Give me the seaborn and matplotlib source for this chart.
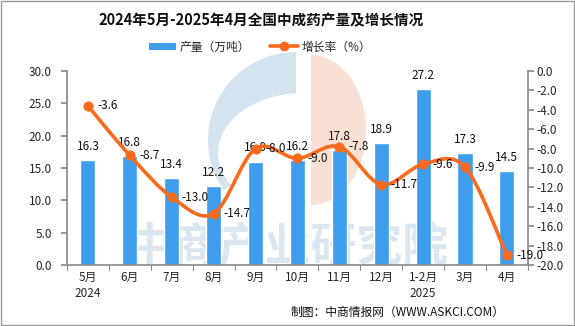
import numpy as np
import pandas as pd
import matplotlib
matplotlib.use("Agg")
import matplotlib.pyplot as plt
import seaborn as sns
from matplotlib.path import Path
from matplotlib.patches import PathPatch, Rectangle, Ellipse, Wedge, Patch, Polygon
from matplotlib.lines import Line2D

sns.set_theme(style="white")
plt.rcParams['font.family'] = ['Noto Sans CJK SC', 'DejaVu Sans']

months = ["5月\n2024", "6月", "7月", "8月", "9月", "10月", "11月", "12月", "1-2月\n2025", "3月", "4月"]
output = [16.3, 16.8, 13.4, 12.2, 16.0, 16.2, 17.8, 18.9, 27.2, 17.3, 14.5]
growth = [-3.6, -8.7, -13.0, -14.7, -8.0, -9.0, -7.8, -11.7, -9.6, -9.9, -19.0]

df = pd.DataFrame({"month": months, "output": output, "growth": growth})
df["x"] = np.arange(len(df))

BLUE = "#3e9ded"
ORANGE = "#fa6a1c"
WM_BLUE = "#d4e4ee"
WM_PEACH = "#f9e0d4"

fig = plt.figure(figsize=(5.75, 3.26), dpi=100)
fig.patch.set_facecolor("white")
fig.add_artist(Rectangle((0.001, 0.002), 0.997, 0.995, transform=fig.transFigure,
                         fill=False, edgecolor="#9a9a9a", linewidth=1.0))

# watermark logo (background), pixel coordinates with y measured upward
H = 326
wax = fig.add_axes([0, 0, 1, 1], zorder=0)
wax.set_xlim(0, 575); wax.set_ylim(0, H); wax.axis("off")
wax.add_patch(Wedge((296, H - 140), 88, 90, 215, facecolor=WM_BLUE, edgecolor="none"))
wax.add_patch(Ellipse((303, H - 153), 170, 120, facecolor="white", edgecolor="none"))
t = np.linspace(-np.pi / 2, np.pi / 2, 60)
wax.add_patch(Polygon(np.column_stack([311 + 55 * np.cos(t), (H - 130) + 75 * np.sin(t)]),
                      closed=True, facecolor=WM_PEACH, edgecolor="none"))
wax.text(288, H - 248, "中商产业研究院", fontsize=33, color="#dae7f0", ha="center", va="center",
         fontweight="bold")

ax = fig.add_axes([0.1165, 0.187, 0.8015, 0.595], zorder=1)
ax.patch.set_alpha(0)
sns.barplot(data=df, x="x", y="output", color=BLUE, width=0.36, ax=ax,
            saturation=1, zorder=2)
if ax.get_legend() is not None:
    ax.get_legend().remove()
ax.set_ylim(0, 30)
ax.set_xlim(-0.5, len(df) - 0.5)
ax.set_yticks(np.arange(0, 30.1, 5))
ax.set_yticklabels([f"{v:.1f}" for v in np.arange(0, 30.1, 5)], fontsize=8.5)
ax.set_xticks(df["x"])
ax.set_xticklabels(months, fontsize=8.5, linespacing=1.3)
ax.set_xlabel(""); ax.set_ylabel("")
for s in ["top", "right"]:
    ax.spines[s].set_visible(False)
for s in ["left", "bottom"]:
    ax.spines[s].set_color("#8c8c8c")
ax.tick_params(axis="y", length=4, color="#8c8c8c", direction="out", pad=7, left=True)
ax.tick_params(axis="x", length=0, pad=4)
for b in np.arange(-0.5, len(df), 1.0):
    ax.plot([b, b], [0, -0.7], color="#8c8c8c", lw=0.8, clip_on=False)
for i, v in enumerate(output):
    ax.text(i, v + 1.1, f"{v:.1f}", ha="center", va="bottom", fontsize=8.5, color="#111111")

ax2 = ax.twinx()
ax2.set_ylim(-20, 0)
ax2.set_yticks(np.arange(-20, 0.1, 2))
ax2.set_yticklabels([f"{v:.1f}" for v in np.arange(-20, 0.1, 2)], fontsize=8.5)
for s in ["top", "left", "bottom"]:
    ax2.spines[s].set_visible(False)
ax2.spines["right"].set_color("#8c8c8c")
ax2.tick_params(axis="y", length=4, color="#8c8c8c", direction="out", pad=2, right=True)

# smooth curve (Catmull-Rom as cubic Bezier through the data points)
xs = df["x"].to_numpy(float); ys = df["growth"].to_numpy(float)
pts = np.column_stack([xs, ys])
verts = [pts[0]]; codes = [Path.MOVETO]
n = len(pts)
for i in range(n - 1):
    p0 = pts[i - 1] if i > 0 else pts[i]
    p1 = pts[i]; p2 = pts[i + 1]
    p3 = pts[i + 2] if i + 2 < n else pts[i + 1]
    c1 = p1 + (p2 - p0) / 6.0
    c2 = p2 - (p3 - p1) / 6.0
    verts += [c1, c2, p2]; codes += [Path.CURVE4] * 3
ax2.add_patch(PathPatch(Path(verts, codes), facecolor="none", edgecolor=ORANGE, lw=2.6, zorder=3))
sns.scatterplot(data=df, x="x", y="growth", color=ORANGE, s=45, edgecolor=ORANGE,
                ax=ax2, zorder=4, legend=False)
ax2.set_xlabel(""); ax2.set_ylabel("")
for i, v in enumerate(growth):
    ax2.text(i + 0.23, v, f"{v:.1f}", ha="left", va="center", fontsize=8.5, color="#111111", zorder=5)

# legend
handles = [Patch(facecolor=BLUE, edgecolor="none", label="产量（万吨）"),
           Line2D([0], [0], color=ORANGE, lw=2.6, marker="o", markersize=6, label="增长率（%）")]
fig.legend(handles=handles, loc="center", bbox_to_anchor=(0.452, 0.856), ncol=2, frameon=False,
           fontsize=8.5, handlelength=2.3, handleheight=0.6, columnspacing=1.7, handletextpad=0.3)

fig.text(0.454, 0.938, "2024年5月-2025年4月全国中成药产量及增长情况", ha="center", va="center",
         fontsize=10.5, fontweight="bold", color="#111111")
fig.text(0.878, 0.043, "制图：中商情报网（WWW.ASKCI.COM）", ha="right", va="center",
         fontsize=8.5, color="#111111")

fig.savefig("out.png", dpi=100)
